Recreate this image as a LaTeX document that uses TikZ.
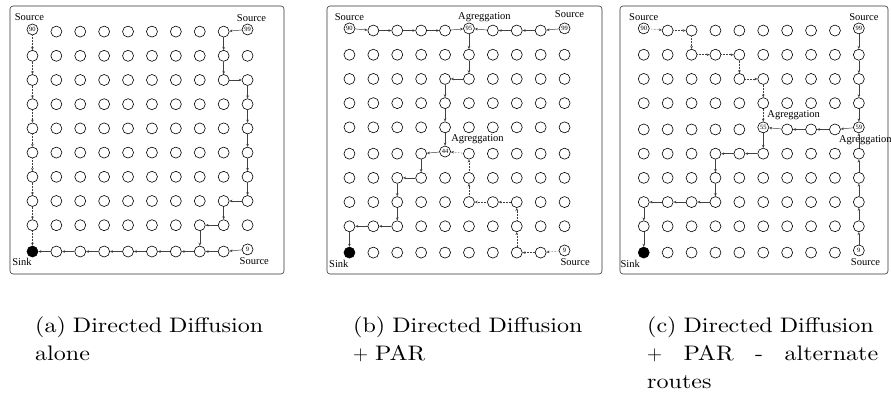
\documentclass[tikz,border=0pt]{standalone}
\usepackage{fontspec}
\usepackage{tikz}
\usetikzlibrary{matrix,positioning,arrows.meta}
\newfontfamily\lblfont{Liberation Serif}
\newfontfamily\captfont{lmroman10-regular.otf}[FakeStretch=1.145]

\begin{document}
\begin{tikzpicture}
	[
		x=1pt, y=1pt,
		>={Stealth[length=3pt,width=2.6pt]},
		every matrix/.style={matrix of nodes, nodes in empty cells, column sep=12.3pt, row sep=12.6pt,
			nodes={circle, draw, line width=0.6pt, minimum size=11pt, inner sep=0pt, font=\lblfont\fontsize{6.5}{7}\selectfont}},
		sink/.style={fill=black},
		link/.style={->, black!75, line width=0.5pt},
		weak/.style={link, densely dotted},
		lbl/.style={font=\lblfont\fontsize{10.5}{12}\selectfont, inner sep=0pt},
		frame/.style={rounded corners=3pt, line width=0.6pt, black!80},
		capt/.style={anchor=base west, inner sep=0pt, text width=250pt, align=left,
			font=\captfont\fontsize{21}{28}\selectfont}
	]
	\useasboundingbox (0,0) rectangle (891,394);

	\draw[frame] (10,120) rectangle (284,388);
	\draw[frame] (327,120) rectangle (602,388);
	\draw[frame] (620,120) rectangle (888,388);

	% (a) directed diffusion alone
	\matrix(mxa) at (140,253.5)
	{
		90 & & & & & & & & & 99 \\
		& & & & & & & & & \\
		& & & & & & & & & \\
		& & & & & & & & & \\
		& & & & & & & & & \\
		& & & & & & & & & \\
		& & & & & & & & & \\
		& & & & & & & & & \\
		& & & & & & & & & \\
		|[sink]| & & & & & & & & & 9 \\
	};
	\foreach \c [remember=\c as \p (initially 1-1)] in {2-1,3-1,4-1,5-1,6-1,7-1,8-1,9-1,10-1}
		\draw[weak] (mxa-\p) -- (mxa-\c);
	\foreach \c [remember=\c as \p (initially 1-10)] in {1-9,2-9,3-9,3-10,4-10,5-10,6-10,7-10,8-10,8-9,9-9,9-8,10-8}
		\draw[link] (mxa-\p) -- (mxa-\c);
	\foreach \c [remember=\c as \p (initially 10-10)] in {10-9,10-8,10-7,10-6,10-5,10-4,10-3,10-2,10-1}
		\draw[link] (mxa-\p) -- (mxa-\c);

	\node(srca1) [lbl, above=3pt of mxa-1-1, xshift=-3pt] {Source};
	\node(srca2) [lbl, above=2pt of mxa-1-10, xshift=4pt] {Source};
	\node(sinka) [lbl, below=1pt of mxa-10-1, xshift=-10.5pt] {Sink};
	\node(srca3) [lbl, below=2pt of mxa-10-10, xshift=6.7pt] {Source};

	% (b) directed diffusion + PAR
	\matrix(mxb) at (457,253.5)
	{
		90 & & & & & 95 & & & & 99 \\
		& & & & & & & & & \\
		& & & & & & & & & \\
		& & & & & & & & & \\
		& & & & & & & & & \\
		& & & & 44 & & & & & \\
		& & & & & & & & & \\
		& & & & & & & & & \\
		& & & & & & & & & \\
		|[sink]| & & & & & & & & & 9 \\
	};
	\foreach \c [remember=\c as \p (initially 1-1)] in {1-2,1-3,1-4,1-5,1-6}
		\draw[link] (mxb-\p) -- (mxb-\c);
	\foreach \c [remember=\c as \p (initially 1-10)] in {1-9,1-8,1-7,1-6}
		\draw[link] (mxb-\p) -- (mxb-\c);
	\foreach \c [remember=\c as \p (initially 1-6)] in {2-6,3-6,3-5,4-5,5-5,6-5,6-4,7-4,7-3,8-3,9-3,9-2,9-1,10-1}
		\draw[link] (mxb-\p) -- (mxb-\c);
	\foreach \c [remember=\c as \p (initially 10-10)] in {10-9,10-8,9-8,8-8,8-7,8-6,7-6,6-6,6-5}
		\draw[weak] (mxb-\p) -- (mxb-\c);

	\node(srcb1) [lbl, above=1.5pt of mxb-1-1] {Source};
	\node(aggb1) [lbl, above=0.5pt of mxb-1-6, xshift=15.5pt] {Agreggation};
	\node(srcb2) [lbl, above=4.5pt of mxb-1-10, xshift=5pt] {Source};
	\node(aggb2) [lbl, above right=1.8pt and 6pt of mxb-6-5.north] {Agreggation};
	\node(sinkb) [lbl, below=2pt of mxb-10-1, xshift=-10.6pt] {Sink};
	\node(srcb3) [lbl, below=2pt of mxb-10-10, xshift=10.6pt] {Source};

	% (c) directed diffusion + PAR, alternate routes
	\matrix(mxc) at (751.3,253.5)
	{
		90 & & & & & & & & & 99 \\
		& & & & & & & & & \\
		& & & & & & & & & \\
		& & & & & & & & & \\
		& & & & & 55 & & & & 59 \\
		& & & & & & & & & \\
		& & & & & & & & & \\
		& & & & & & & & & \\
		& & & & & & & & & \\
		|[sink]| & & & & & & & & & 9 \\
	};
	\foreach \c [remember=\c as \p (initially 1-1)] in {1-2,1-3,2-3,2-4,2-5,3-5,3-6,4-6,5-6}
		\draw[weak] (mxc-\p) -- (mxc-\c);
	\foreach \c [remember=\c as \p (initially 1-10)] in {2-10,3-10,4-10,5-10}
		\draw[link] (mxc-\p) -- (mxc-\c);
	\foreach \c [remember=\c as \p (initially 10-10)] in {9-10,8-10,7-10,6-10,5-10}
		\draw[link] (mxc-\p) -- (mxc-\c);
	\foreach \c [remember=\c as \p (initially 5-10)] in {5-9,5-8,5-7,5-6}
		\draw[link] (mxc-\p) -- (mxc-\c);
	\foreach \c [remember=\c as \p (initially 5-6)] in {6-6,6-5,6-4,7-4,8-4,8-3,8-2,8-1,9-1,10-1}
		\draw[link] (mxc-\p) -- (mxc-\c);

	\node(srcc1) [lbl, above=2pt of mxc-1-1] {Source};
	\node(srcc2) [lbl, above=2pt of mxc-1-10, xshift=5pt] {Source};
	\node(aggc1) [lbl, above right=1.5pt and 4pt of mxc-5-6.north] {Agreggation};
	\node(aggc2) [lbl, below=2.5pt of mxc-5-10, xshift=6.5pt] {Agreggation};
	\node(sinkc) [lbl, below=2pt of mxc-10-1, xshift=-13.5pt] {Sink};
	\node(srcc3) [lbl, below=2pt of mxc-10-10, xshift=6.7pt] {Source};

	% captions
	\node(capa) [capt] at (35,62) {(a) Directed Diffusion\\ alone};
	\node(capb) [capt] at (353,62) {(b) Directed Diffusion\\ $+$ PAR};
	\node(capc) [capt] at (647,62) {(c) Directed Diffusion\\ \makebox[231pt][l]{$+$\hfill PAR\hfill -\hfill alternate}\\ routes};
\end{tikzpicture}
\end{document}
